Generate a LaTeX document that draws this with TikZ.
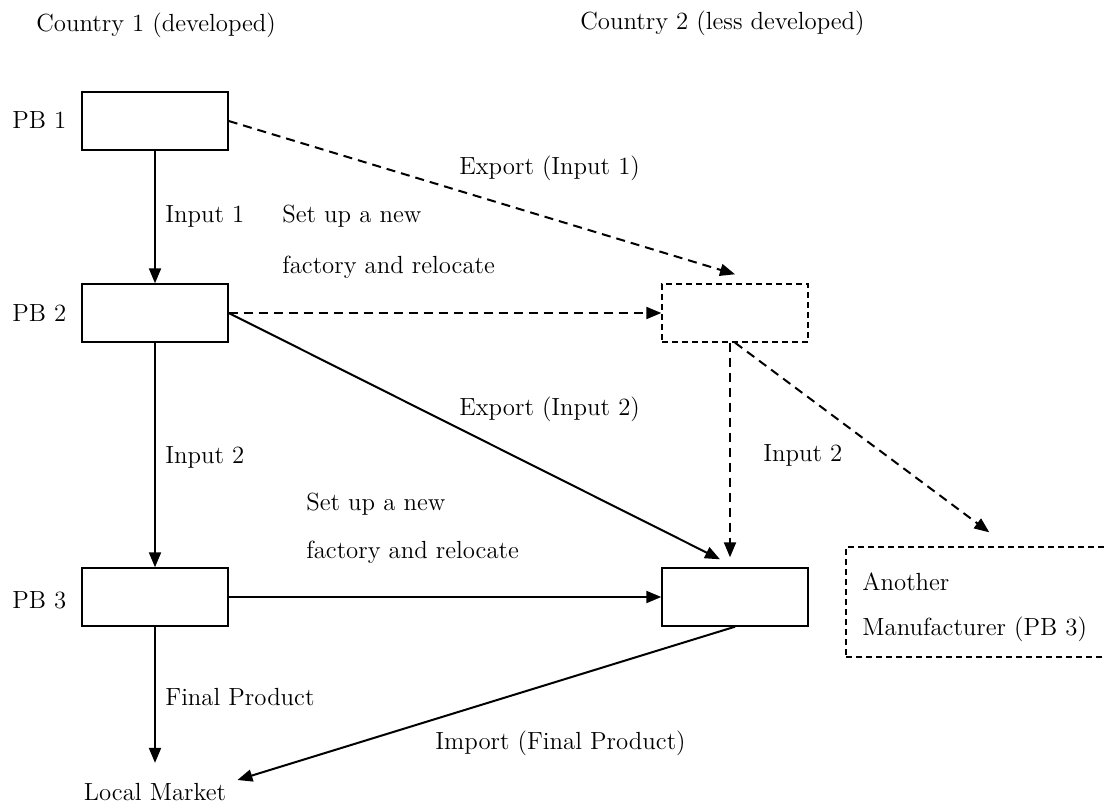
\documentclass[tikz,border=0pt]{standalone}
\usepackage{amsmath}
\usepackage{tikz}
\usetikzlibrary{arrows.meta,positioning}

\begin{document}
\begin{tikzpicture}[x=0.5pt,y=-0.5pt,
  font=\fontsize{12.4}{14}\selectfont,
  box/.style={draw,line width=0.7pt,minimum width=73pt,minimum height=29pt,inner sep=0pt},
  dbox/.style={box,dash pattern=on 3pt off 2pt},
  lbl/.style={anchor=west,inner sep=0pt},
  arr/.style={-{Triangle[length=7.5pt,width=6pt]},line width=1pt},
  darr/.style={arr,dash pattern=on 4.5pt off 3pt}]
\useasboundingbox (0,0) rectangle (1106,807);

% countries
\node[lbl] (country1) at (36,25) {Country 1 (developed)};
\node[lbl] (country2) at (580,23) {Country 2 (less developed)};

% production blocks, country 1
\node[box] (pb1) at (155,121) {};
\node[box] (pb2) at (155,313) {};
\node[box] (pb3) at (155,597) {};
\node[lbl] (pb1lbl) at (12,120) {PB 1};
\node[lbl] (pb2lbl) at (12,313) {PB 2};
\node[lbl] (pb3lbl) at (12,600) {PB 3};
\node[inner sep=0pt] (market) at (155,792) {Local Market};

% production blocks, country 2
\node[dbox] (c2top) at (735,313) {};
\node[box] (c2bot) at (735,597) {};
\node[dbox,minimum width=137pt,minimum height=55pt] (another) at (983,602) {};
\node[lbl,align=left,font=\fontsize{12.4}{22.5}\selectfont] (anothertxt) at (862,607.5)
  {Another\\Manufacturer (PB 3)};

% flows
\draw[arr]
  (pb1.south) -- (pb2.north);
\draw[arr]
  (pb2.south) -- (pb3.north);
\draw[arr,shorten >=10pt]
  (pb3.south) -- (market.north);
\draw[darr]
  (pb1.east) -- ([yshift=4.5pt]c2top.north);
\draw[darr]
  (pb2.east) -- (c2top.west);
\draw[arr]
  (pb2.east) -- ([xshift=-7.5pt,yshift=4pt]c2bot.north);
\draw[darr]
  ([xshift=-2.5pt]c2top.south) -- ([xshift=-2.5pt,yshift=5pt]c2bot.north);
\draw[darr]
  (c2top.south) -- ([xshift=72pt,yshift=7pt]another.north west);
\draw[arr]
  (pb3.east) -- (c2bot.west);
\draw[arr]
  (c2bot.south) -- ([xshift=5.5pt,yshift=6pt]market.east);

% labels
\node[lbl] (in1) at (165,216) {Input 1};
\node[lbl,align=left,font=\fontsize{12.4}{25.5}\selectfont] (relocate1) at (282,241.5)
  {Set up a new\\factory and relocate};
\node[lbl] (exp1) at (459,168) {Export (Input 1)};
\node[lbl] (exp2) at (459,409) {Export (Input 2)};
\node[lbl] (in2l) at (165,457) {Input 2};
\node[lbl] (in2r) at (763,455) {Input 2};
\node[lbl,align=left,font=\fontsize{12.4}{24}\selectfont] (relocate2) at (306,528)
  {Set up a new\\factory and relocate};
\node[lbl] (final) at (165,697) {Final Product};
\node[lbl] (import) at (435,743) {Import (Final Product)};

\end{tikzpicture}
\end{document}
